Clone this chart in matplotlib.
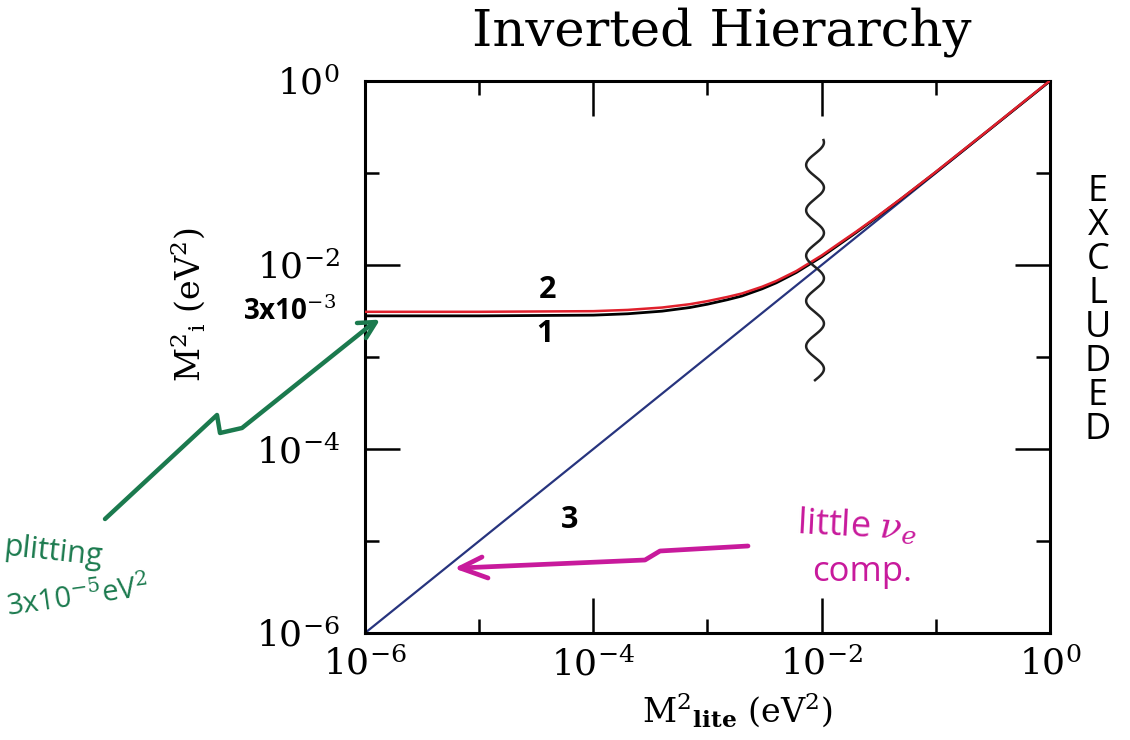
import numpy as np
import matplotlib
matplotlib.use("Agg")
import matplotlib.pyplot as plt
from matplotlib.lines import Line2D
from matplotlib.ticker import FixedLocator, NullFormatter

plt.rcParams['font.family'] = ['DejaVu Serif']
plt.rcParams['mathtext.fontset'] = 'dejavuserif'

# ------------------------------------------------------------
# Mass-squared values (eV^2) vs lightest mass-squared
# ------------------------------------------------------------
m2_lite = [1e-6, 1e-5, 1e-4, 2e-4, 4e-4, 7e-4, 1e-3, 1.5e-3, 2e-3, 3e-3, 4e-3,
           6e-3, 1e-2, 1.5e-2, 2e-2, 3e-2, 5e-2, 1e-1, 3e-1, 1.0]
m2_state1 = [2.8e-3, 2.8e-3, 2.85e-3, 2.95e-3, 3.15e-3, 3.45e-3, 3.75e-3, 4.2e-3,
             4.6e-3, 5.5e-3, 6.4e-3, 8.3e-3, 1.23e-2, 1.75e-2, 2.25e-2, 3.25e-2,
             5.25e-2, 1.02e-1, 3.02e-1, 1.0]
m2_state2 = [3.1e-3, 3.1e-3, 3.15e-3, 3.25e-3, 3.45e-3, 3.75e-3, 4.05e-3, 4.5e-3,
             4.9e-3, 5.8e-3, 6.7e-3, 8.6e-3, 1.27e-2, 1.8e-2, 2.3e-2, 3.3e-2,
             5.3e-2, 1.03e-1, 3.04e-1, 1.01]
m2_state3 = [1e-6, 1e-5, 1e-4, 1e-3, 1e-2, 1e-1, 1.0]

major_ticks = [1e-6, 1e-4, 1e-2, 1e0]
minor_ticks = [1e-5, 1e-3, 1e-1]
tick_labels = [r'$10^{-6}$', r'$10^{-4}$', r'$10^{-2}$', r'$10^{0}$']

W, H = 1130, 740
fig = plt.figure(figsize=(W / 100, H / 100), dpi=100)


def fx(x):
    return x / W


def fy(y):
    return 1 - y / H


ax = fig.add_axes([fx(365), fy(633), fx(1050) - fx(365), fy(81) - fy(633)])

ax.plot(m2_lite, m2_state1, color='black', lw=2.0, zorder=3)
ax.plot(m2_lite, m2_state2, color='#e0202c', lw=1.8, zorder=4)
ax.plot(m2_state3, m2_state3, color='#27347e', lw=1.6, zorder=2)

ax.set_xscale('log')
ax.set_yscale('log')
ax.set_xlim(1e-6, 1)
ax.set_ylim(1e-6, 1)

for axis in (ax.xaxis, ax.yaxis):
    axis.set_major_locator(FixedLocator(major_ticks))
    axis.set_minor_locator(FixedLocator(minor_ticks))
    axis.set_minor_formatter(NullFormatter())
ax.set_xticklabels(tick_labels)
ax.set_yticklabels(tick_labels)

ax.tick_params(which='both', direction='in', top=True, right=True, width=1.8)
ax.tick_params(which='major', length=25, labelsize=26)
ax.tick_params(axis='y', which='major', pad=18)
ax.tick_params(axis='x', which='major', pad=10)
ax.tick_params(which='minor', length=10)
for s in ax.spines.values():
    s.set_linewidth(2.2)

fig.text(fx(722), fy(32), 'Inverted Hierarchy', fontsize=37,
         ha='center', va='center')
fig.text(fx(737), fy(710), r'M$^2$$_{\mathbf{lite}}$ (eV$^2$)', fontsize=24,
         ha='center', va='center')
fig.text(fx(188), fy(305), r'M$^2$$_{\rm i}$ (eV$^2$)', fontsize=24,
         ha='center', va='center', rotation=90)

# ------------------------------------------------------------
# Hand-written notes
# ------------------------------------------------------------
hand = ['Open Sans', 'DejaVu Sans']
fig.text(fx(548), fy(290), '2', fontsize=22, fontweight='bold', family=hand,
         ha='center', va='center')
fig.text(fx(545), fy(334), '1', fontsize=22, fontweight='bold', family=hand,
         ha='center', va='center')
fig.text(fx(570), fy(520), '3', fontsize=22, fontweight='bold', family=hand,
         ha='center', va='center')
fig.text(fx(290), fy(312), r'3x10$^{-3}$', fontsize=20, fontweight='bold',
         family=hand, ha='center', va='center')

for i, ch in enumerate('EXCLUDED'):
    fig.text(fx(1098), fy(192 + i * 34), ch, fontsize=26, family=hand,
             ha='center', va='center')

# wiggly cut near 1e-2
t = np.linspace(0, 1, 400)
wig_x = 0.657 + 0.013 * np.sin(2 * np.pi * 5.3 * t)
wig_y = 0.458 + (0.893 - 0.458) * t
ax.plot(wig_x, wig_y, color='#222222', lw=1.8, transform=ax.transAxes,
        clip_on=False, zorder=5)

# green arrow to the flat level
green = '#1b7a4e'
gx = [105, 217, 220, 242, 372]
gy = [519, 415, 433, 428, 324]
fig.add_artist(Line2D([fx(v) for v in gx], [fy(v) for v in gy],
                      color=green, lw=3.2, solid_capstyle='round'))
fig.add_artist(Line2D([fx(357), fx(376), fx(366)], [fy(323), fy(322), fy(338)],
                      color=green, lw=3.2, solid_capstyle='round'))
fig.text(fx(2), fy(552), 'plitting', fontsize=22, color=green, family=hand,
         ha='left', va='center', rotation=-6)
fig.text(fx(4), fy(598), r'3x10$^{-5}$eV$^2$', fontsize=21, color=green,
         family=hand, ha='left', va='center', rotation=8)

# magenta arrow to line 3
magenta = '#c81a9c'
mx = [748, 660, 645, 460]
my = [546, 551, 560, 568]
fig.add_artist(Line2D([fx(v) for v in mx], [fy(v) for v in my],
                      color=magenta, lw=3.4, solid_capstyle='round'))
fig.add_artist(Line2D([fx(482), fx(460), fx(488)], [fy(557), fy(568), fy(578)],
                      color=magenta, lw=3.4, solid_capstyle='round'))
fig.text(fx(857), fy(527), r'little $\nu_e$', fontsize=26, color=magenta,
         family=hand, ha='center', va='center', rotation=-3)
fig.text(fx(862), fy(572), 'comp.', fontsize=25, color=magenta,
         family=hand, ha='center', va='center')

fig.savefig('out.png', dpi=100)
